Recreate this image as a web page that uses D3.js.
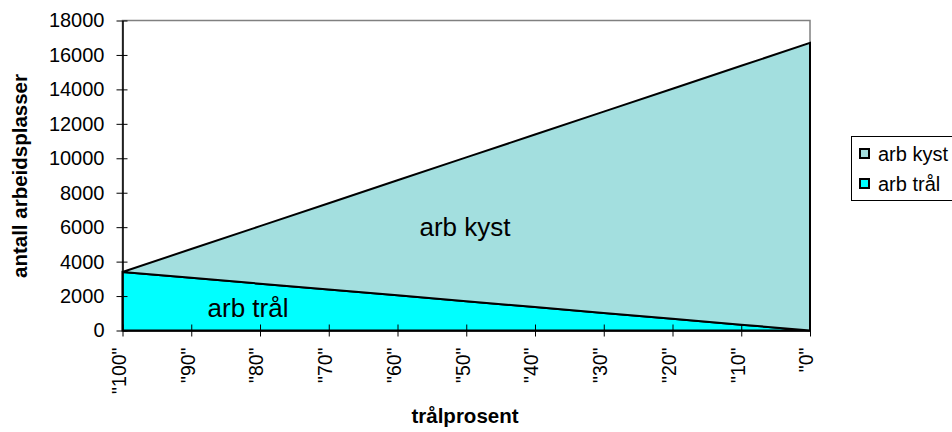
<!DOCTYPE html>
<html>
<head>
<meta charset="utf-8">
<script src="https://cdnjs.cloudflare.com/ajax/libs/d3/7.8.5/d3.min.js"></script>
<style>
  body { margin: 0; background: #fff; }
  text { font-family: Arial, "Liberation Sans", sans-serif; fill: #000; }
</style>
</head>
<body>
<script>
// data
var categories = ["100", "90", "80", "70", "60", "50", "40", "30", "20", "10", "0"];
var tral = [3400, 3060, 2720, 2380, 2040, 1700, 1360, 1020, 680, 340, 0];
var kyst = [0, 1670, 3340, 5010, 6680, 8350, 10020, 11690, 13360, 15030, 16700];
var yTicks = [0, 2000, 4000, 6000, 8000, 10000, 12000, 14000, 16000, 18000];

var width = 952, height = 432;
var mLeft = 122.5, mRight = 810, mTop = 20.5, mBottom = 330.5;

var svg = d3.select("body").append("svg")
    .attr("width", width)
    .attr("height", height);

var x = d3.scalePoint().domain(categories).range([mLeft, mRight]);
var y = d3.scaleLinear().domain([0, 18000]).range([mBottom, mTop]);

var rows = categories.map(function(c, i) {
    return { cat: c, tral: tral[i], kyst: kyst[i] };
});
var series = d3.stack().keys(["tral", "kyst"])(rows);
var colors = { tral: "#00FFFF", kyst: "#A3DFDF" };

// plot frame (grey)
svg.append("rect")
    .attr("x", mLeft).attr("y", mTop)
    .attr("width", mRight - mLeft).attr("height", mBottom - mTop)
    .attr("fill", "none").attr("stroke", "#808080").attr("stroke-width", 1.5);

var area = d3.area()
    .x(function(d) { return x(d.data.cat); })
    .y0(function(d) { return y(d[0]); })
    .y1(function(d) { return y(d[1]); });

svg.append("g").selectAll("path")
    .data(series)
    .enter().append("path")
    .attr("d", area)
    .attr("fill", function(d) { return colors[d.key]; })
    .attr("stroke", "#000")
    .attr("stroke-width", 2);

// axes
var yAxis = svg.append("g")
    .attr("transform", "translate(" + mLeft + ",0)")
    .call(d3.axisLeft(y).tickValues(yTicks).tickSize(0).tickPadding(18).tickFormat(d3.format("d")));
yAxis.select(".domain").attr("stroke", "#000").attr("stroke-width", 1.5);
yAxis.selectAll("text").style("font-size", "20px").style("font-family", "Arial, 'Liberation Sans', sans-serif");
yAxis.selectAll(".tick").append("line")
    .attr("x1", -6).attr("x2", 5).attr("stroke", "#000");

var xAxis = svg.append("g")
    .attr("transform", "translate(0," + mBottom + ")")
    .call(d3.axisBottom(x).tickSize(0).tickFormat(function(d) { return '"' + d + '"'; }));
xAxis.select(".domain").attr("stroke", "#000").attr("stroke-width", 1.5);
xAxis.selectAll(".tick").append("line")
    .attr("y1", -6).attr("y2", 6).attr("stroke", "#000");
xAxis.selectAll("text")
    .style("font-size", "19.5px")
    .style("font-family", "Arial, 'Liberation Sans', sans-serif")
    .attr("transform", "rotate(-90)")
    .attr("x", -17).attr("y", -4).attr("dy", "0.35em")
    .style("text-anchor", "end");

// axis titles
svg.append("text")
    .attr("x", 465).attr("y", 423)
    .attr("text-anchor", "middle")
    .style("font-size", "20.5px").style("font-weight", "bold")
    .text("trålprosent");

svg.append("text")
    .attr("transform", "translate(27,176) rotate(-90)")
    .attr("text-anchor", "middle")
    .style("font-size", "20.5px").style("font-weight", "bold")
    .text("antall arbeidsplasser");

// area labels
svg.append("text")
    .attr("x", 465).attr("y", 236)
    .attr("text-anchor", "middle")
    .style("font-size", "26px")
    .text("arb kyst");

svg.append("text")
    .attr("x", 248).attr("y", 317)
    .attr("text-anchor", "middle")
    .style("font-size", "26px")
    .text("arb trål");

// legend
var legend = svg.append("g");
legend.append("rect")
    .attr("x", 851.5).attr("y", 136.5)
    .attr("width", 110).attr("height", 64)
    .attr("fill", "#fff").attr("stroke", "#000");
var legendItems = [{ key: "kyst", label: "arb kyst" }, { key: "tral", label: "arb trål" }];
legendItems.forEach(function(it, i) {
    var ly = 153.5 + i * 30;
    legend.append("rect")
        .attr("x", 860).attr("y", ly - 4.5)
        .attr("width", 9).attr("height", 9)
        .attr("fill", colors[it.key]).attr("stroke", "#000").attr("stroke-width", 2);
    legend.append("text")
        .attr("x", 878).attr("y", ly).attr("dy", "0.35em")
        .style("font-size", "20px")
        .text(it.label);
});
</script>
</body>
</html>
